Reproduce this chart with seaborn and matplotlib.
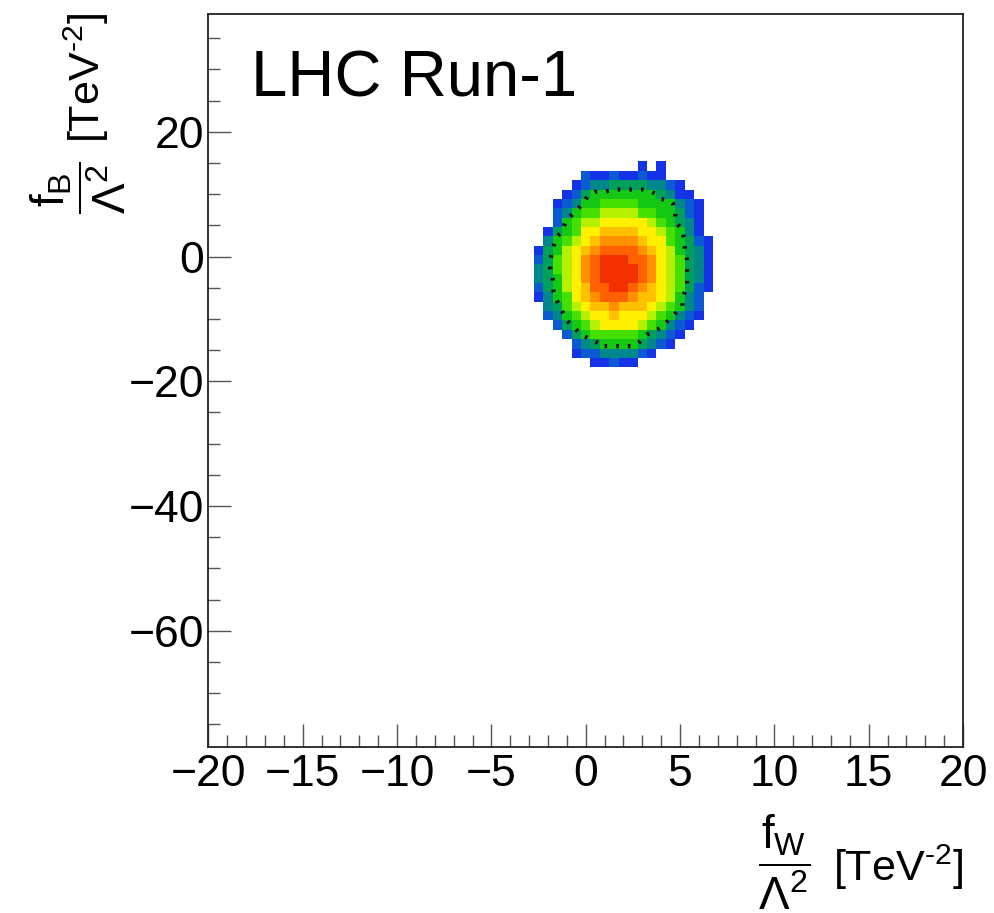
import numpy as np
import pandas as pd
import seaborn as sns
import matplotlib.pyplot as plt
from matplotlib.colors import ListedColormap
from matplotlib.ticker import MultipleLocator

# bin centres of the 2D histogram, TeV^-2
fw_bins = [-2.5, -2.0, -1.5, -1.0, -0.5, 0.0, 0.5, 1.0, 1.5, 2.0,
           2.5, 3.0, 3.5, 4.0, 4.5, 5.0, 5.5, 6.0, 6.5]
fb_bins = [14.5, 13.0, 11.5, 10.0, 8.5, 7.0, 5.5, 4.0, 2.5, 1.0, -0.5,
           -2.0, -3.5, -5.0, -6.5, -8.0, -9.5, -11.0, -12.5, -14.0, -15.5, -17.0]

# colour level of every bin (0 = empty), rows follow fb_bins from top to bottom
counts = [
    [0, 0, 0, 0, 0, 0, 0, 0, 0, 0, 0, 1, 0, 1, 0, 0, 0, 0, 0],
    [0, 0, 0, 0, 0, 2, 1, 1, 2, 1, 1, 2, 1, 1, 0, 0, 0, 0, 0],
    [0, 0, 0, 0, 1, 2, 3, 3, 4, 4, 4, 4, 3, 3, 2, 1, 0, 0, 0],
    [0, 0, 0, 1, 2, 4, 5, 5, 5, 5, 5, 5, 5, 4, 3, 1, 1, 0, 0],
    [0, 0, 1, 2, 3, 5, 5, 6, 6, 6, 6, 5, 5, 5, 5, 3, 2, 1, 0],
    [0, 0, 2, 3, 5, 6, 6, 7, 7, 7, 7, 6, 6, 5, 5, 4, 2, 1, 0],
    [0, 0, 2, 5, 6, 7, 7, 8, 8, 8, 8, 8, 7, 6, 5, 4, 3, 1, 0],
    [0, 1, 4, 5, 6, 8, 8, 9, 9, 9, 9, 8, 8, 7, 6, 5, 3, 1, 0],
    [0, 3, 5, 6, 7, 8, 9, 10, 10, 10, 10, 9, 8, 8, 6, 5, 4, 2, 1],
    [1, 4, 5, 7, 8, 9, 10, 11, 11, 11, 11, 10, 9, 8, 7, 5, 4, 3, 1],
    [2, 4, 6, 7, 8, 10, 11, 12, 12, 12, 11, 11, 10, 8, 7, 6, 4, 3, 1],
    [3, 4, 6, 7, 8, 10, 11, 12, 12, 12, 12, 11, 10, 8, 7, 6, 4, 3, 1],
    [3, 4, 5, 7, 8, 10, 11, 12, 12, 12, 12, 11, 10, 8, 7, 6, 4, 3, 1],
    [2, 4, 5, 7, 8, 9, 11, 11, 12, 12, 11, 10, 9, 8, 7, 6, 4, 2, 1],
    [1, 3, 5, 6, 8, 9, 10, 11, 11, 11, 10, 9, 9, 8, 7, 5, 3, 2, 0],
    [0, 3, 4, 6, 7, 8, 9, 9, 10, 9, 9, 9, 8, 7, 6, 5, 3, 2, 0],
    [0, 2, 3, 5, 6, 7, 8, 8, 9, 8, 8, 8, 7, 6, 5, 3, 2, 1, 0],
    [0, 0, 2, 4, 5, 6, 7, 8, 8, 8, 8, 7, 6, 5, 3, 2, 1, 0, 0],
    [0, 0, 0, 2, 4, 5, 6, 6, 6, 6, 6, 5, 4, 3, 2, 1, 0, 0, 0],
    [0, 0, 0, 0, 2, 3, 4, 5, 5, 5, 5, 4, 3, 2, 1, 0, 0, 0, 0],
    [0, 0, 0, 0, 1, 2, 2, 3, 3, 3, 3, 2, 1, 0, 0, 0, 0, 0, 0],
    [0, 0, 0, 0, 0, 0, 1, 1, 2, 1, 1, 0, 0, 0, 0, 0, 0, 0, 0],
]

# one colour per level, blue (low) to red (high)
palette = ["#1432e6", "#0a5ad2", "#00878c", "#00a05a", "#14c814", "#46e000",
           "#b4f000", "#fff000", "#ffc000", "#ff9000", "#ff6000", "#f53000"]

ring_level = 4.5
title = "LHC Run-1"
unit = r"[TeV$^{\text{-}2}$]"

rows = []
for fb, line in zip(fb_bins, counts):
    for fw, c in zip(fw_bins, line):
        rows.append((fw, fb, c))
df = pd.DataFrame(rows, columns=["fw", "fb", "count"])

sns.set_style("ticks")
plt.rcParams['font.family'] = ['Liberation Sans', 'DejaVu Sans']
plt.rcParams['mathtext.fontset'] = 'custom'
plt.rcParams['mathtext.rm'] = 'Liberation Sans'
plt.rcParams['mathtext.it'] = 'Liberation Sans'
plt.rcParams['mathtext.bf'] = 'Liberation Sans:bold'
plt.rcParams['text.color'] = 'black'

fig = plt.figure(figsize=(9.95, 9.13), dpi=100)
ax = fig.add_axes([0.2094, 0.1815, 0.7585, 0.8032])

sns.histplot(data=df, x="fw", y="fb", weights="count",
             binwidth=(0.5, 1.5), binrange=((-2.75, 6.75), (-17.75, 15.25)),
             cmap=ListedColormap(palette), ax=ax)
ax.collections[0].set_clim(0.5, 12.5)

# black dotted ring around the core
z = np.array(counts, dtype=float)[::-1]
ax.contour(fw_bins, fb_bins[::-1], z, levels=[ring_level], colors="black",
           linewidths=3, linestyles=[(0, (0.6, 2.2))])

ax.set_xlim(-20, 20)
ax.set_ylim(-78.7, 38.9)
ax.set_xlabel("")
ax.set_ylabel("")
ax.set_xticks([-20, -15, -10, -5, 0, 5, 10, 15, 20])
ax.set_yticks([-60, -40, -20, 0, 20])
ax.xaxis.set_minor_locator(MultipleLocator(1))
ax.yaxis.set_minor_locator(MultipleLocator(5))
ax.tick_params(which="both", direction="in", top=False, right=False,
               color="#555555", width=1, labelsize=32, labelcolor="black")
ax.tick_params(which="major", length=16.3)
ax.tick_params(which="minor", length=8.4)
ax.tick_params(axis="x", pad=5)
ax.tick_params(axis="y", pad=3.3)
for s in ax.spines.values():
    s.set_linewidth(1.3)
    s.set_color("#222222")

ax.text(0.056, 0.887, title, transform=ax.transAxes, fontsize=47,
        va="baseline", ha="left")

# axis titles: a big fraction followed by the unit, ROOT style
W, H = 995, 913
fig.text(784 / W, 1 - 862 / H, r"$\dfrac{f_{W}}{\Lambda^{2}}$",
         fontsize=33, ha="center", va="center")
fig.text(963 / W, 1 - 881 / H, unit, fontsize=31, ha="right", va="baseline")
fig.text(78 / W, 1 - 188 / H, r"$\dfrac{f_{B}}{\Lambda^{2}}$",
         fontsize=33, ha="center", va="center", rotation=90)
fig.text(100 / W, 1 - 13 / H, unit, fontsize=31, ha="right", va="baseline",
         rotation=90, rotation_mode="anchor")

plt.savefig("out.png", dpi=100)
